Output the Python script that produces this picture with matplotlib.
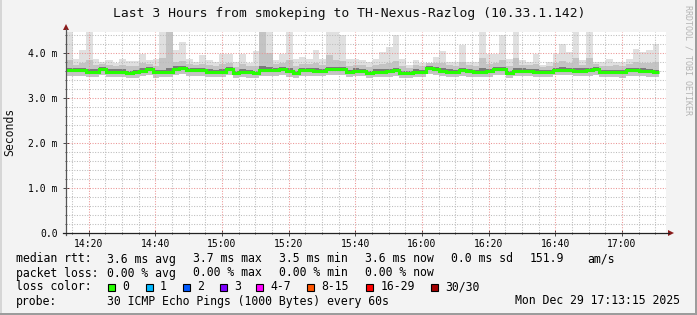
import matplotlib
matplotlib.use("Agg")
import matplotlib.pyplot as plt
from matplotlib.lines import Line2D
from matplotlib.patches import Rectangle, Polygon
import numpy as np

plt.rcParams['font.family'] = ['DejaVu Sans Mono']

W, H = 697, 315

title = "Last 3 Hours from smokeping to TH-Nexus-Razlog (10.33.1.142)"
start_min = 13.25        # minutes after 14:00 (14:13:15)
end_min = 193.25         # 17:13:15
step_min = 2.0

rtt_median = [3.63,3.63,3.63,3.59,3.59,3.64,3.59,3.59,3.59,3.56,
              3.57,3.61,3.64,3.57,3.57,3.57,3.65,3.67,3.62,3.62,
              3.62,3.59,3.59,3.59,3.64,3.55,3.59,3.57,3.55,3.62,
              3.62,3.62,3.64,3.60,3.56,3.62,3.62,3.61,3.61,3.64,
              3.64,3.64,3.58,3.61,3.61,3.56,3.59,3.59,3.60,3.62,
              3.56,3.56,3.59,3.59,3.66,3.64,3.61,3.59,3.59,3.62,
              3.60,3.59,3.59,3.60,3.64,3.64,3.56,3.61,3.61,3.61,
              3.59,3.59,3.58,3.63,3.63,3.63,3.61,3.61,3.62,3.64,
              3.58,3.58,3.58,3.57,3.62,3.62,3.61,3.60,3.58]
rtt_p75 = [3.68,3.67,3.68,3.64,3.64,3.69,3.64,3.65,3.64,3.61,
           3.62,3.66,3.69,3.62,3.63,3.66,3.71,3.72,3.67,3.66,
           3.67,3.64,3.63,3.64,3.69,3.60,3.64,3.62,3.60,3.72,
           3.70,3.66,3.69,3.66,3.61,3.67,3.66,3.66,3.65,3.70,
           3.69,3.69,3.63,3.66,3.65,3.61,3.64,3.64,3.65,3.67,
           3.61,3.60,3.64,3.63,3.71,3.69,3.66,3.64,3.63,3.67,
           3.65,3.63,3.66,3.65,3.69,3.70,3.61,3.67,3.66,3.65,
           3.64,3.63,3.63,3.68,3.69,3.68,3.67,3.66,3.68,3.69,
           3.63,3.62,3.63,3.62,3.67,3.67,3.66,3.65,3.63]
rtt_p25 = [3.59,3.59,3.58,3.55,3.55,3.60,3.55,3.55,3.54,3.52,
           3.53,3.57,3.60,3.53,3.53,3.53,3.61,3.63,3.58,3.58,
           3.57,3.55,3.55,3.55,3.60,3.51,3.55,3.53,3.51,3.58,
           3.58,3.58,3.60,3.56,3.52,3.58,3.58,3.57,3.57,3.60,
           3.60,3.60,3.54,3.57,3.57,3.52,3.55,3.55,3.56,3.58,
           3.52,3.52,3.55,3.55,3.62,3.60,3.57,3.55,3.55,3.58,
           3.56,3.55,3.55,3.56,3.60,3.60,3.52,3.57,3.57,3.57,
           3.55,3.55,3.54,3.59,3.59,3.59,3.57,3.57,3.58,3.60,
           3.54,3.54,3.54,3.53,3.58,3.58,3.57,3.56,3.54]
rtt_p90 = [3.85,3.74,3.78,3.85,3.73,3.76,3.73,3.72,3.74,3.71,
           3.72,3.77,3.76,3.72,3.90,4.50,3.80,3.82,3.75,3.74,
           3.76,3.73,3.72,3.75,3.78,3.70,3.75,3.71,3.72,4.50,
           4.00,3.75,3.78,3.85,3.71,3.76,3.75,3.78,3.74,3.95,
           3.85,3.82,3.72,3.74,3.73,3.70,3.74,3.75,3.78,3.82,
           3.72,3.68,3.73,3.72,3.78,3.78,3.77,3.73,3.72,3.80,
           3.73,3.72,3.90,3.76,3.78,3.85,3.71,3.90,3.74,3.73,
           3.76,3.70,3.72,3.78,3.82,3.78,3.90,3.74,3.90,3.75,
           3.72,3.72,3.74,3.71,3.75,3.80,3.78,3.79,3.80]
rtt_max = [4.60,3.88,4.07,4.60,3.88,3.81,3.84,3.77,3.88,3.82,
           3.82,3.99,3.85,3.88,4.60,4.60,4.07,4.25,3.88,3.81,
           3.96,3.84,3.81,3.97,3.99,3.81,3.99,3.79,4.04,4.60,
           4.60,3.84,3.99,4.60,3.88,3.92,3.88,4.07,3.88,4.60,
           4.60,4.40,3.88,3.88,3.84,3.81,3.88,4.03,4.14,4.40,
           3.88,3.73,3.84,3.77,3.77,3.92,4.04,3.81,3.81,4.19,
           3.81,3.81,4.60,3.99,3.99,4.40,3.88,4.60,3.84,3.81,
           3.99,3.73,3.81,3.99,4.21,4.03,4.60,3.84,4.60,3.81,
           3.81,3.88,3.81,3.81,3.88,4.10,4.03,4.07,4.21]
rtt_min = [3.50,3.49,3.50,3.47,3.46,3.51,3.47,3.47,3.46,3.44,
           3.44,3.49,3.51,3.45,3.46,3.46,3.52,3.54,3.49,3.50,
           3.49,3.47,3.47,3.47,3.51,3.44,3.47,3.45,3.44,3.49,
           3.50,3.50,3.52,3.48,3.45,3.50,3.50,3.49,3.49,3.52,
           3.52,3.52,3.46,3.49,3.49,3.45,3.47,3.47,3.48,3.50,
           3.45,3.45,3.47,3.47,3.53,3.52,3.49,3.47,3.47,3.50,
           3.48,3.47,3.47,3.48,3.52,3.52,3.45,3.49,3.49,3.49,
           3.47,3.47,3.46,3.51,3.51,3.51,3.49,3.49,3.50,3.52,
           3.46,3.46,3.46,3.45,3.50,3.50,3.49,3.48,3.46]

x_tick_labels = ["14:20", "14:40", "15:00", "15:20", "15:40", "16:00", "16:20", "16:40", "17:00"]
y_major = [0.0, 1.0, 2.0, 3.0, 4.0]
y_tick_labels = ["0.0", "1.0 m", "2.0 m", "3.0 m", "4.0 m"]
y_max = 4.47

loss_labels = ["0", "1", "2", "3", "4-7", "8-15", "16-29", "30/30"]
loss_colors = ["#26ff00", "#00b8ff", "#0059ff", "#7e00ff", "#ff00ff", "#ff5500", "#ff0000", "#a10000"]

stats_rtt = ["3.6 ms avg", "3.7 ms max", "3.5 ms min", "3.6 ms now", "0.0 ms sd", "151.9", "am/s"]
stats_loss = ["0.00 % avg", "0.00 % max", "0.00 % min", "0.00 % now"]
probe_text = "30 ICMP Echo Pings (1000 Bytes) every 60s"
date_text = "Mon Dec 29 17:13:15 2025"

# ---------------------------------------------------------------
fig = plt.figure(figsize=(W / 100, H / 100), dpi=100, facecolor="#f3f3f3")

def fx(x):
    return x / W

def fy(y):
    return 1 - y / H

# frame borders
fig.add_artist(Rectangle((0, 0), fx(2), 1, transform=fig.transFigure, color="#d6d6d6", lw=0))
fig.add_artist(Rectangle((0, 0), 1, fy(H - 2), transform=fig.transFigure, color="#9c9c9c", lw=0))
fig.add_artist(Rectangle((fx(W - 2), 0), fx(2), 1, transform=fig.transFigure, color="#9c9c9c", lw=0))

L, R, T, B = 66, 666, 32, 233
ax = fig.add_axes([fx(L), fy(B), fx(R - L), (B - T) / H])
ax.set_facecolor("white")
ax.set_xlim(start_min, end_min)
ax.set_ylim(0, y_max)

n = len(rtt_median)
edges = start_min + step_min * np.arange(n + 1)

ax.stairs(rtt_max, edges, baseline=rtt_min, fill=True, color="#e0e0e0", lw=0, zorder=1)
ax.stairs(rtt_p90, edges, baseline=rtt_min, fill=True, color="#c4c4c4", lw=0, zorder=1.1)
ax.stairs(rtt_p75, edges, baseline=rtt_p25, fill=True, color="#7a7a7a", lw=0, zorder=1.2)
ax.stairs(rtt_median, edges, baseline=None, color="#26ff00", lw=2.2, zorder=4)

# grid
def hm(s):
    h, m = s.split(":")
    return (int(h) - 14) * 60 + int(m)

major_x = [hm(s) for s in x_tick_labels]
minor_x = np.arange(15, end_min, 5)
grid_minor = "#bcbcbc"
grid_major = "#eb9494"
dots = (0, (1, 1.5))
for x in minor_x:
    if x not in major_x:
        ax.axvline(x, color=grid_minor, lw=0.75, ls=dots, zorder=3)
for x in major_x:
    ax.axvline(x, color=grid_major, lw=0.75, ls=dots, zorder=3)
minor_y = np.arange(0.2, y_max, 0.2)
for y in minor_y:
    if abs(y - round(y)) > 1e-6:
        ax.axhline(y, color=grid_minor, lw=0.75, ls=dots, zorder=3)
for y in y_major[1:]:
    ax.axhline(y, color=grid_major, lw=0.75, ls=dots, zorder=3)

for s in ax.spines.values():
    s.set_visible(False)

ax.set_xticks(major_x)
ax.set_xticklabels(x_tick_labels, fontsize=7)
ax.set_xticks(minor_x, minor=True)
ax.set_yticks(y_major)
ax.set_yticklabels(y_tick_labels, fontsize=7)
ax.set_yticks(minor_y, minor=True)
ax.tick_params(axis="both", which="major", direction="inout", length=4, width=0.7, color="#444444", pad=2)
ax.tick_params(axis="both", which="minor", direction="inout", length=2, width=0.7, color="#444444")
ax.tick_params(axis="y", pad=4)

# axis lines with arrows
fig.add_artist(Line2D([fx(L), fx(L)], [fy(B + 2), fy(29)], color="#555555", lw=0.9))
fig.add_artist(Line2D([fx(L - 3), fx(669)], [fy(B), fy(B)], color="#222222", lw=0.9))
fig.add_artist(Polygon([[fx(L - 3), fy(30)], [fx(L + 3), fy(30)], [fx(L), fy(24)]], closed=True,
                       transform=fig.transFigure, color="#8b1a1a", lw=0))
fig.add_artist(Polygon([[fx(668), fy(B - 3)], [fx(668), fy(B + 3)], [fx(674), fy(B)]], closed=True,
                       transform=fig.transFigure, color="#8b1a1a", lw=0))

# texts
fig.text(fx(349), fy(13), title, ha="center", va="center", fontsize=9.4, color="#111111")
fig.text(fx(10), fy(132), "Seconds", rotation=90, ha="center", va="center", fontsize=8.3, color="#111111")
fig.text(fx(688), fy(5), "RRDTOOL / TOBI OETIKER", rotation=270, ha="center", va="top",
         fontsize=6, color="#b4b4b4")

fs = 8.3
rows = [259, 273, 287, 301]
fig.text(fx(16), fy(rows[0]), "median rtt:", va="center", fontsize=fs)
for xpos, s in zip([107, 193, 279, 365, 451, 530, 587], stats_rtt):
    fig.text(fx(xpos), fy(rows[0]), s, va="center", fontsize=fs)
fig.text(fx(16), fy(rows[1]), "packet loss:", va="center", fontsize=fs)
for xpos, s in zip([107, 193, 279, 365], stats_loss):
    fig.text(fx(xpos), fy(rows[1]), s, va="center", fontsize=fs)
fig.text(fx(16), fy(rows[2]), "loss color:", va="center", fontsize=fs)
box_x = [108, 145.5, 182.5, 219.5, 256, 306.5, 366, 430.5]
for bx, lab, col in zip(box_x, loss_labels, loss_colors):
    fig.add_artist(Rectangle((fx(bx), fy(rows[2] + 4)), fx(7), 7 / H, transform=fig.transFigure,
                             facecolor=col, edgecolor="black", lw=0.8))
    fig.text(fx(bx + 14.5), fy(rows[2]), lab, va="center", fontsize=fs)
fig.text(fx(16), fy(rows[3]), "probe:", va="center", fontsize=fs)
fig.text(fx(107), fy(rows[3]), probe_text, va="center", fontsize=fs)
fig.text(fx(680), fy(rows[3]), date_text, va="center", ha="right", fontsize=fs)

fig.savefig("out.png", dpi=100, facecolor=fig.get_facecolor())
